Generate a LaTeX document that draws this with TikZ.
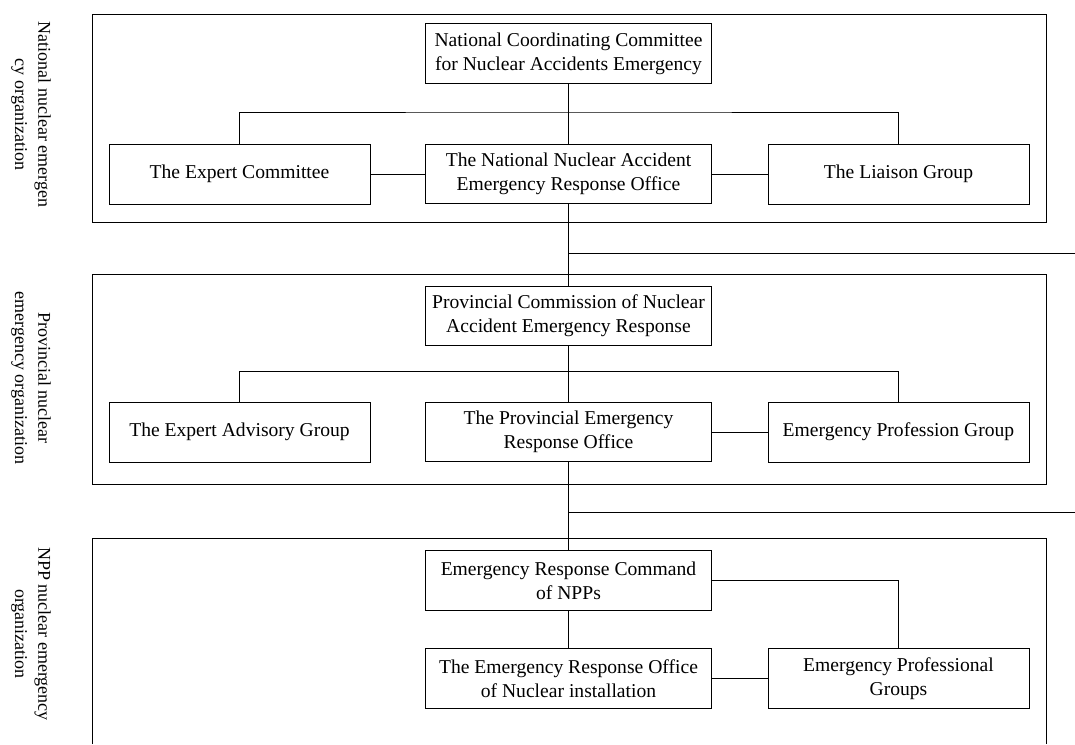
\documentclass[tikz,border=0pt]{standalone}
\usepackage{fontspec}
\setmainfont{Liberation Serif}
\usepackage{tikz}
\usetikzlibrary{positioning, calc}

\tikzset{
  orgbox/.style={draw, line width=0.75pt, align=center, inner sep=2pt,
                 minimum width=215pt, minimum height=44.5pt},
  sidebox/.style={orgbox, minimum width=195.75pt, minimum height=45pt},
  levellabel/.style={rotate=-90, align=center, font=\fontsize{13.5}{17.5}\selectfont},
  frame/.style={line width=0.75pt},
}

\begin{document}
\begin{tikzpicture}[x=0.75pt, y=-0.75pt, line width=0.75pt,
                    font=\fontsize{14.7}{18}\selectfont]
        \useasboundingbox (0,0) rectangle (1075,744);

        \draw[frame] (92,14)  rectangle (1046,222);           %national
        \draw[frame] (92,274) rectangle (1046,484);           %provincial
        \draw[frame] (92,744) -- (92,538) -- (1046,538) -- (1046,744); %npp

        \node[levellabel] (lnat)  at (31,114.5) {National nuclear emergen\\cy organization};
        \node[levellabel] (lprov) at (31,378)   {Provincial nuclear\\emergency organization};
        \node[levellabel] (lnpp)  at (31,634)   {NPP nuclear emergency\\organization};

        % national level
        \node[orgbox]  (ncc)     at (568.5,53.5) {National Coordinating Committee\\for Nuclear Accidents Emergency};
        \node[orgbox]  (nnaero)  at (568.5,174)  {The National Nuclear Accident\\Emergency Response Office};
        \node[sidebox] (expert)  at (239.5,174)  {The Expert Committee};
        \node[sidebox] (liaison) at (898.5,174)  {The Liaison Group};

        % provincial level
        \node[orgbox]  (pcnaer)   at (568.5,316) {Provincial Commission of Nuclear\\Accident Emergency Response};
        \node[orgbox]  (pero)     at (568.5,432) {The Provincial Emergency\\Response Office};
        \node[sidebox] (advisory) at (239.5,432) {The Expert Advisory Group};
        \node[sidebox] (epg)      at (898.5,432) {Emergency Profession Group};

        % npp level
        \node[orgbox]  (ercn)    at (568.5,580.5) {Emergency Response Command\\of NPPs};
        \node[orgbox]  (ero)     at (568.5,678.5) {The Emergency Response Office\\of Nuclear installation};
        \node[sidebox] (epgs)    at (898.5,678.5) {Emergency Professional\\Groups};

        \coordinate (nbus) at (568.5,112);
        \coordinate (pbus) at (568.5,371);
        \coordinate (nout) at (1075,253);
        \coordinate (pout) at (1075,512);

        \draw (ncc) -- (nnaero);
        \draw (expert.north) |- (nbus) -| (liaison.north);
        \draw (expert) -- (nnaero);
        \draw (nnaero) -- (liaison);
        \draw (nnaero) -- (pcnaer);
        \draw (nnaero.south |- nout) -- (nout);

        \draw (pcnaer) -- (pero);
        \draw (advisory.north) |- (pbus) -| (epg.north);
        \draw (pero) -- (epg);
        \draw (pero) -- (ercn);
        \draw (pero.south |- pout) -- (pout);

        \draw (ercn) -- (ero);
        \draw (ercn.east) -| (epgs.north);
        \draw (ero) -- (epgs);
\end{tikzpicture}
\end{document}
